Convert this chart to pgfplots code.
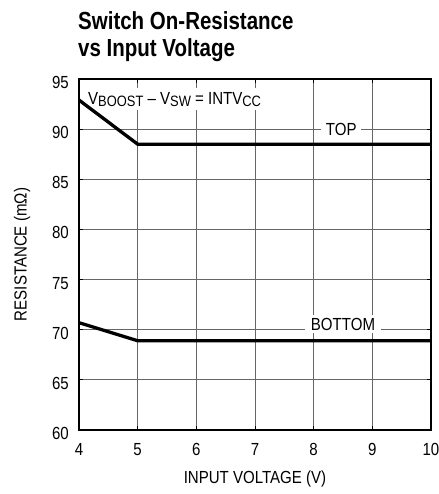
\documentclass[border=0pt]{standalone}
\usepackage{fontspec}
\setmainfont[FakeStretch=0.86]{Liberation Sans}
\newfontfamily\titlefont[FakeStretch=0.83]{Liberation Sans}
\usepackage{pgfplots}
\pgfplotsset{compat=1.18}
\newcommand\lbl{\fontsize{17.5}{20}\selectfont}
\newcommand\sub[1]{\raisebox{-2pt}{\fontsize{15}{17}\selectfont #1}}

\begin{document}
\begin{tikzpicture}
\begin{axis}[
  name=ax, scale only axis, width=352pt, height=351pt,
  xmin=4, xmax=10, ymin=60, ymax=95,
  xtick={4,...,10}, ytick={60,65,...,95},
  grid=major, grid style={black!60, line width=0.8pt},
  axis line style={line width=1.5pt},
  tick style={black, line width=0.8pt}, major tick length=4pt, tick align=inside,
  ticklabel style={font=\lbl, inner sep=0pt},
  xticklabel style={anchor=north, yshift=-13pt},
  yticklabel style={anchor=east, xshift=-10pt, yshift=-3.5pt},
  /pgf/number format/assume math mode=true,
]
% labels with white boxes over the grid
\node[fill=white, inner xsep=3pt, inner ysep=4pt, anchor=base west, font=\lbl]
  at (axis cs:4.102,92.5) {V\sub{BOOST} -- V\sub{SW} = INTV\sub{CC}};
\node[fill=white, inner xsep=4.5pt, inner ysep=3pt, font=\lbl] at (axis cs:8.47,90) {TOP};
\node[fill=white, inner xsep=5.5pt, inner ysep=3pt, font=\lbl] at (axis cs:8.5,70.55) {BOTTOM};
% TOP switch
\addplot[black, line width=3.3pt] coordinates {(4,92.9) (5,88.5) (10,88.5)};
% BOTTOM switch
\addplot[black, line width=3.3pt] coordinates {(4,70.7) (5,68.9) (10,68.9)};
\end{axis}
\node[anchor=base west, inner sep=0, font=\titlefont\bfseries\fontsize{24.7}{28}\selectfont]
  at ([xshift=-1pt,yshift=49.7pt]ax.north west) {Switch On-Resistance};
\node[anchor=base west, inner sep=0, font=\titlefont\bfseries\fontsize{24.7}{28}\selectfont]
  at ([xshift=-1pt,yshift=22.3pt]ax.north west) {vs Input Voltage};
\node[anchor=base, inner sep=0, font=\lbl] at ([yshift=-53pt]ax.south) {INPUT VOLTAGE (V)};
\node[rotate=90, anchor=base, inner sep=0, font=\lbl] at ([xshift=-52.3pt]ax.west) {RESISTANCE (mΩ)};
\pgfresetboundingbox
\path[use as bounding box] ([shift={(-79pt,-64pt)}]ax.south west) rectangle ([shift={(8pt,79pt)}]ax.north east);
\end{tikzpicture}
\end{document}
